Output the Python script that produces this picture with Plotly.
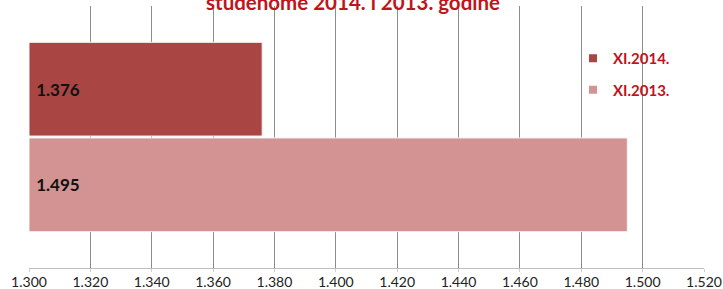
import plotly.graph_objects as go

category = ["Studenti"]
series_names = ["XI.2014.", "XI.2013."]
values_2014 = [1.376]
values_2013 = [1.495]
axis_min = 1.30
tick_vals = [1.30, 1.32, 1.34, 1.36, 1.38, 1.40, 1.42, 1.44, 1.46, 1.48, 1.50, 1.52]

font_main = "Lato"
col_2014 = "#A94543"
col_2013 = "#D39393"
title_red = "#C0141C"

fig = go.Figure()
# 2013 first so that it sits below in Plotly's grouped horizontal layout
for name, vals, col, grp, rank in [(series_names[1], values_2013, col_2013, "b", 2),
                                   (series_names[0], values_2014, col_2014, "a", 1)]:
    fig.add_trace(go.Bar(
        y=category, x=[v - axis_min for v in vals], base=axis_min,
        orientation="h", name=name, legendgroup=grp, showlegend=False,
        marker=dict(color=col, line=dict(color="#F4F4F4", width=1)),
        text=vals, texttemplate="\u00a0%{text:.3f}", textposition="inside",
        insidetextanchor="start",
        textfont=dict(family=font_main, size=17, color="#111111", weight="bold"),
    ))
    fig.add_trace(go.Scatter(
        x=[None], y=[None], mode="markers", name=name, legendgroup=grp,
        legendrank=rank,
        marker=dict(symbol="square", size=8, color=col),
    ))

fig.update_layout(
    width=723, height=289,
    margin=dict(l=29, r=19, t=6, b=21, autoexpand=False),
    paper_bgcolor="white", plot_bgcolor="white",
    barmode="group", bargap=0.27, bargroupgap=0.02,
    showlegend=True,
    legend=dict(
        x=(573 - 29) / 675, y=(268 - 42) / 262, xanchor="left", yanchor="top",
        bgcolor="rgba(0,0,0,0)", traceorder="grouped",
        tracegroupgap=9,
        font=dict(family=font_main, size=15, color=title_red, weight="bold"),
        itemwidth=30,
    ),
    font=dict(family=font_main, size=14, color="#222222"),
    annotations=[dict(
        text="<b>studenome 2014. i 2013. godine</b>",
        xref="paper", yref="paper", x=(353 - 29) / 675, y=1.0,
        yanchor="middle", xanchor="center",
        yshift=4, showarrow=False,
        font=dict(family=font_main, size=20.5, color=title_red),
    )],
)

fig.update_xaxes(
    range=[1.30, 1.52], tickvals=tick_vals, tickformat=".3f",
    showgrid=True, gridcolor="#8C8C8C", gridwidth=1,
    zeroline=False, showline=True, linecolor="#BFBFBF", linewidth=1,
    ticks="outside", ticklen=3, tickcolor="#D0D0D0",
    tickfont=dict(family=font_main, size=14, color="#222222"),
    ticklabelstandoff=-2,
    automargin=False,
)
fig.update_yaxes(showticklabels=False, showgrid=False, zeroline=False, showline=False,
                 range=[-0.5, 0.5], automargin=False)

fig.write_html("out.html", config={"displayModeBar": False},
               post_script="document.body.style.margin='0';")
